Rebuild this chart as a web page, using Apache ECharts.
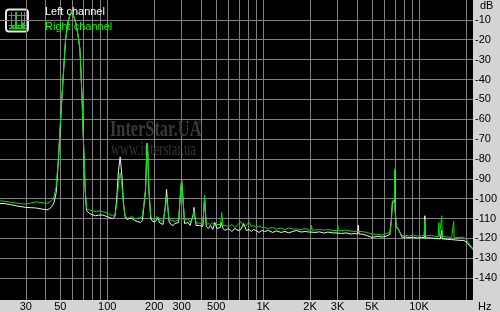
<!DOCTYPE html>
<html>
<head>
<meta charset="utf-8">
<script src="https://cdn.jsdelivr.net/npm/echarts@6/dist/echarts.min.js"></script>
<style>
html,body{margin:0;padding:0;background:#d4d4d4;}
#c{width:500px;height:312px;}
</style>
</head>
<body>
<div id="c"></div>
<script>
// ---- data (frequency in Hz, level in dB) ----
const FREQ = [20.5,22,24,26,28,30,32,35,38,40.6,42.5,44,45.5,47,48.5,50,52,54,56,58,59.5,61,63,65,66.8,68.8,70.4,72.2,73.6,75,77,80,84,88,93,98,103,108,112,115,118,121,124,127,130,134,139,144,150,156,163,168,172,176,178.5,180,182,185,190,196,203,208,212,216,222,228,233,237,240,244,249,256,264,272,280,287,293,300,306,313,320,330,340,350,356,360,365,372,382,392,402,410,416,421,426,432,445,460,475,490,505,520,532,538,542,547,553,570,600,630,660,690,720,750,780,811,840,870,900,940,980,1020,1080,1150,1220,1300,1380,1460,1550,1640,1750,1870,1960,2025,2045,2065,2150,2300,2450,2600,2800,2990,3016,3040,3200,3400,3650,3900,4040,4080,4120,4300,4600,5000,5400,5800,6200,6500,6650,6750,6900,6970,7000,7030,7070,7150,7400,7800,8200,8700,9200,9800,10400,10800,10900,11000,11300,12000,12700,13300,13400,13500,13700,13900,14000,14100,14400,15300,16200,16600,16700,16800,17200,18300,19400,20300,21000,21800,22200];
const LEFT = [-102.4,-102.5,-103,-103.6,-104,-104.4,-104.5,-104.7,-105.2,-105.6,-105.2,-104,-102,-97,-82,-63,-40,-20,-11,-7,-5.6,-6.5,-12,-18,-25,-48,-72,-96,-106,-106.5,-107.5,-108,-108.6,-108.3,-108.2,-108.8,-109.5,-110,-109,-100,-86,-79,-88,-102,-109,-110.5,-110,-110,-111,-111.5,-112,-111,-111,-96,-80,-72,-78,-96,-110,-111.5,-111.5,-110.5,-109.5,-112,-112.7,-113,-112,-102,-95.3,-103,-111.5,-113,-113.5,-112.5,-113,-112,-100,-90.3,-100,-112.5,-113.5,-112,-113.5,-113,-108,-104.4,-109,-113.5,-114,-113.5,-114.2,-114,-106,-100,-106,-114,-115,-113.5,-115.5,-112,-115,-114.5,-114.5,-112,-111,-113,-115,-116,-115,-116.5,-115,-116,-115.5,-112.5,-116,-115.5,-116.5,-115.5,-116,-117,-116,-116.5,-116,-117,-116.2,-117,-116.5,-117.2,-116.5,-116,-116.8,-116.5,-116.8,-116.8,-116,-116.9,-117,-116.7,-117.3,-116.8,-117.2,-117.3,-116.5,-117.3,-117.5,-117.2,-117.8,-117.5,-117.8,-113.3,-117.8,-117.8,-118.5,-119.5,-119,-119.3,-118.8,-118,-110,-102,-101,-101.5,-86,-106,-108,-114,-115.5,-119.5,-119.3,-119.6,-119.4,-119.8,-119.5,-119.7,-108.6,-119.7,-119.5,-119.8,-120,-120.2,-120.3,-120.2,-120.2,-120.2,-116,-120.2,-120.3,-120.5,-120.6,-120.7,-120.8,-120.7,-120.8,-121,-121,-122,-123.5,-125,-125.5];
const RIGHT = [-101.1,-101.3,-101.8,-102.2,-102.5,-102.7,-102.3,-101.6,-102,-102.3,-101.8,-101,-99,-94,-80,-62,-40,-20,-11,-7,-5.6,-6.5,-12,-18,-25,-48,-72,-95,-105,-105.7,-105.8,-106,-106.4,-106.2,-106.5,-106.9,-107.8,-108.5,-108,-103,-93,-87,-93,-103,-108.5,-109.9,-109.5,-109,-110,-109.8,-109.5,-109,-109.5,-95,-80,-72,-77,-95,-109,-110.3,-110.2,-109,-108,-110.5,-111,-111.5,-110.5,-104,-99,-104,-110.5,-111.5,-111,-111.5,-111,-110.5,-100,-90.3,-100,-111,-112,-110,-112,-111.5,-109,-106,-110,-112,-112.5,-112.5,-112.8,-112.5,-106,-98.3,-106,-113,-112.5,-113,-112,-113.5,-113,-112.5,-113,-110,-106.9,-110,-113.5,-113.5,-114,-113,-114.5,-113,-111.5,-114,-113.5,-111.8,-114,-113.5,-114.5,-113.8,-114.5,-114.5,-115,-114.5,-115.3,-114.8,-115.5,-114.7,-115.3,-115.3,-115.5,-115,-115.8,-115.8,-113.5,-115.8,-115.8,-115.5,-115.8,-115.5,-116,-116,-113.5,-116,-116,-115.8,-116.3,-116.5,-116.5,-115.8,-116.5,-116.5,-117,-117.8,-118,-118.2,-117.5,-117,-112,-101,-100,-100.5,-85,-105,-110,-114.5,-116,-118.6,-118.5,-118.8,-118.4,-118.8,-118.6,-118.7,-110.5,-118.7,-118.8,-118.5,-119,-119.1,-112,-119.1,-119,-119.1,-108.6,-119.1,-119.2,-119.3,-119.5,-119.6,-111.4,-119.6,-119.8,-119.5,-119.4,-121,-122.8,-124.4,-125];
const GRID_HZ = [30,40,50,60,70,80,90,100,200,300,400,500,600,700,800,900,1000,2000,3000,4000,5000,6000,7000,8000,9000,10000,20000];
const XLABEL_HZ = [30,50,100,200,300,500,1000,2000,3000,5000,10000];
const XLABELS = ['30','50','100','200','300','500','1K','2K','3K','5K','10K'];
const YTICKS = [-10,-20,-30,-40,-50,-60,-70,-80,-90,-100,-110,-120,-130,-140];
const SERIES_NAMES = ['Left channel','Right channel'];

const F_MIN = 20.5, F_MAX = 22200;
const lg = Math.log10;
const FONT = 'Liberation Sans';

const chart = echarts.init(document.getElementById('c'), null, {renderer:'canvas'});
const labelFor = v => {
  let best = 0, bd = 1e9;
  XLABEL_HZ.forEach((f,i)=>{ const d = Math.abs(lg(f)-v); if (d<bd){bd=d;best=i;} });
  return XLABELS[best];
};

const option = {
  animation: false,
  backgroundColor: '#d4d4d4',
  grid: {left:0, right:22, top:0, bottom:10, show:true, backgroundColor:'#000', borderWidth:0, containLabel:false},
  legend: {
    orient:'vertical', left:40, top:6, padding:0, itemWidth:0, itemHeight:12, itemGap:3,
    icon:'none', selectedMode:false,
    textStyle:{fontFamily:FONT, fontSize:11},
    data:[
      {name:SERIES_NAMES[0], textStyle:{color:'#ffffff'}},
      {name:SERIES_NAMES[1], textStyle:{color:'#00ff00'}}
    ]
  },
  xAxis: {
    type:'value', min:lg(F_MIN), max:lg(F_MAX),
    axisLine:{show:false},
    axisTick:{show:false, customValues: GRID_HZ.map(lg)},
    splitLine:{show:true, lineStyle:{color:'#808080', width:1}},
    axisLabel:{
      customValues: XLABEL_HZ.map(lg), margin:1,
      color:'#000', fontFamily:FONT, fontSize:11,
      formatter: v => labelFor(v)
    }
  },
  yAxis: {
    type:'value', position:'right', min:-151, max:0,
    axisLine:{show:false},
    axisTick:{show:false, customValues: YTICKS},
    splitLine:{show:true, lineStyle:{color:'#808080', width:1}},
    axisLabel:{
      customValues: YTICKS, margin:2, align:'left',
      color:'#000', fontFamily:FONT, fontSize:11,
      formatter: v => String(v)
    }
  },
  graphic: [
    {type:'text', left:480, top:0, z:5, style:{text:'dB', fill:'#000', font:'11px "Liberation Sans"'}},
    {type:'text', left:478, top:301, z:5, style:{text:'Hz', fill:'#000', font:'11px "Liberation Sans"'}},
    {type:'text', x:110, y:118, scaleX:0.68, z:1, style:{text:'InterStar.UA', fill:'#3a3a3a', font:'bold 24px "Liberation Serif"'}},
    {type:'text', x:196, y:119, z:1, style:{text:'®', fill:'#3a3a3a', font:'9px "Liberation Serif"'}},
    {type:'text', x:111, y:141, scaleX:0.66, z:1, style:{text:'www.interstar.ua', fill:'#353535', font:'19px "Liberation Serif"'}},
    {type:'group', z:5, children:[
      {type:'rect', shape:{x:6,y:9.5,width:22,height:22,r:3}, style:{fill:'#000', stroke:'#e6e6e6', lineWidth:2}},
      {type:'line', shape:{x1:11.5,y1:12,x2:11.5,y2:29}, style:{stroke:'#808080', lineWidth:1}},
      {type:'line', shape:{x1:16.5,y1:12,x2:16.5,y2:29}, style:{stroke:'#808080', lineWidth:1}},
      {type:'line', shape:{x1:21.5,y1:12,x2:21.5,y2:29}, style:{stroke:'#808080', lineWidth:1}},
      {type:'line', shape:{x1:24.5,y1:12,x2:24.5,y2:29}, style:{stroke:'#808080', lineWidth:1}},
      {type:'line', shape:{x1:8.5,y1:15.5,x2:26,y2:15.5}, style:{stroke:'#808080', lineWidth:1}},
      {type:'line', shape:{x1:8.5,y1:20.5,x2:26,y2:20.5}, style:{stroke:'#808080', lineWidth:1}},
      {type:'line', shape:{x1:8.5,y1:25.5,x2:26,y2:25.5}, style:{stroke:'#808080', lineWidth:1}},
      {type:'polyline', shape:{points:[[9,28.5],[12,28.5],[13,26],[14,28.5],[15.5,28.5],[15.8,12],[16.4,28.5],[18,28.5],[18.5,26.5],[19.5,28.5],[21.3,28.5],[21.7,20.5],[22.2,28.5],[23,28.5],[23.4,22.5],[23.9,28.5],[26,28.5]]}, style:{stroke:'#00e000', lineWidth:1.3, fill:null}}
    ]}
  ],
  series: [
    {name:SERIES_NAMES[0], type:'line', showSymbol:false, symbol:'none', z:3,
     lineStyle:{color:'#f0f0f0', width:1}, itemStyle:{color:'#ffffff'},
     data: FREQ.map((f,i)=>[lg(f), LEFT[i]])},
    {name:SERIES_NAMES[1], type:'line', showSymbol:false, symbol:'none', z:4,
     lineStyle:{color:'#00dd00', width:1}, itemStyle:{color:'#00ff00'},
     data: FREQ.map((f,i)=>[lg(f), RIGHT[i]])}
  ]
};
chart.setOption(option);
</script>
</body>
</html>
